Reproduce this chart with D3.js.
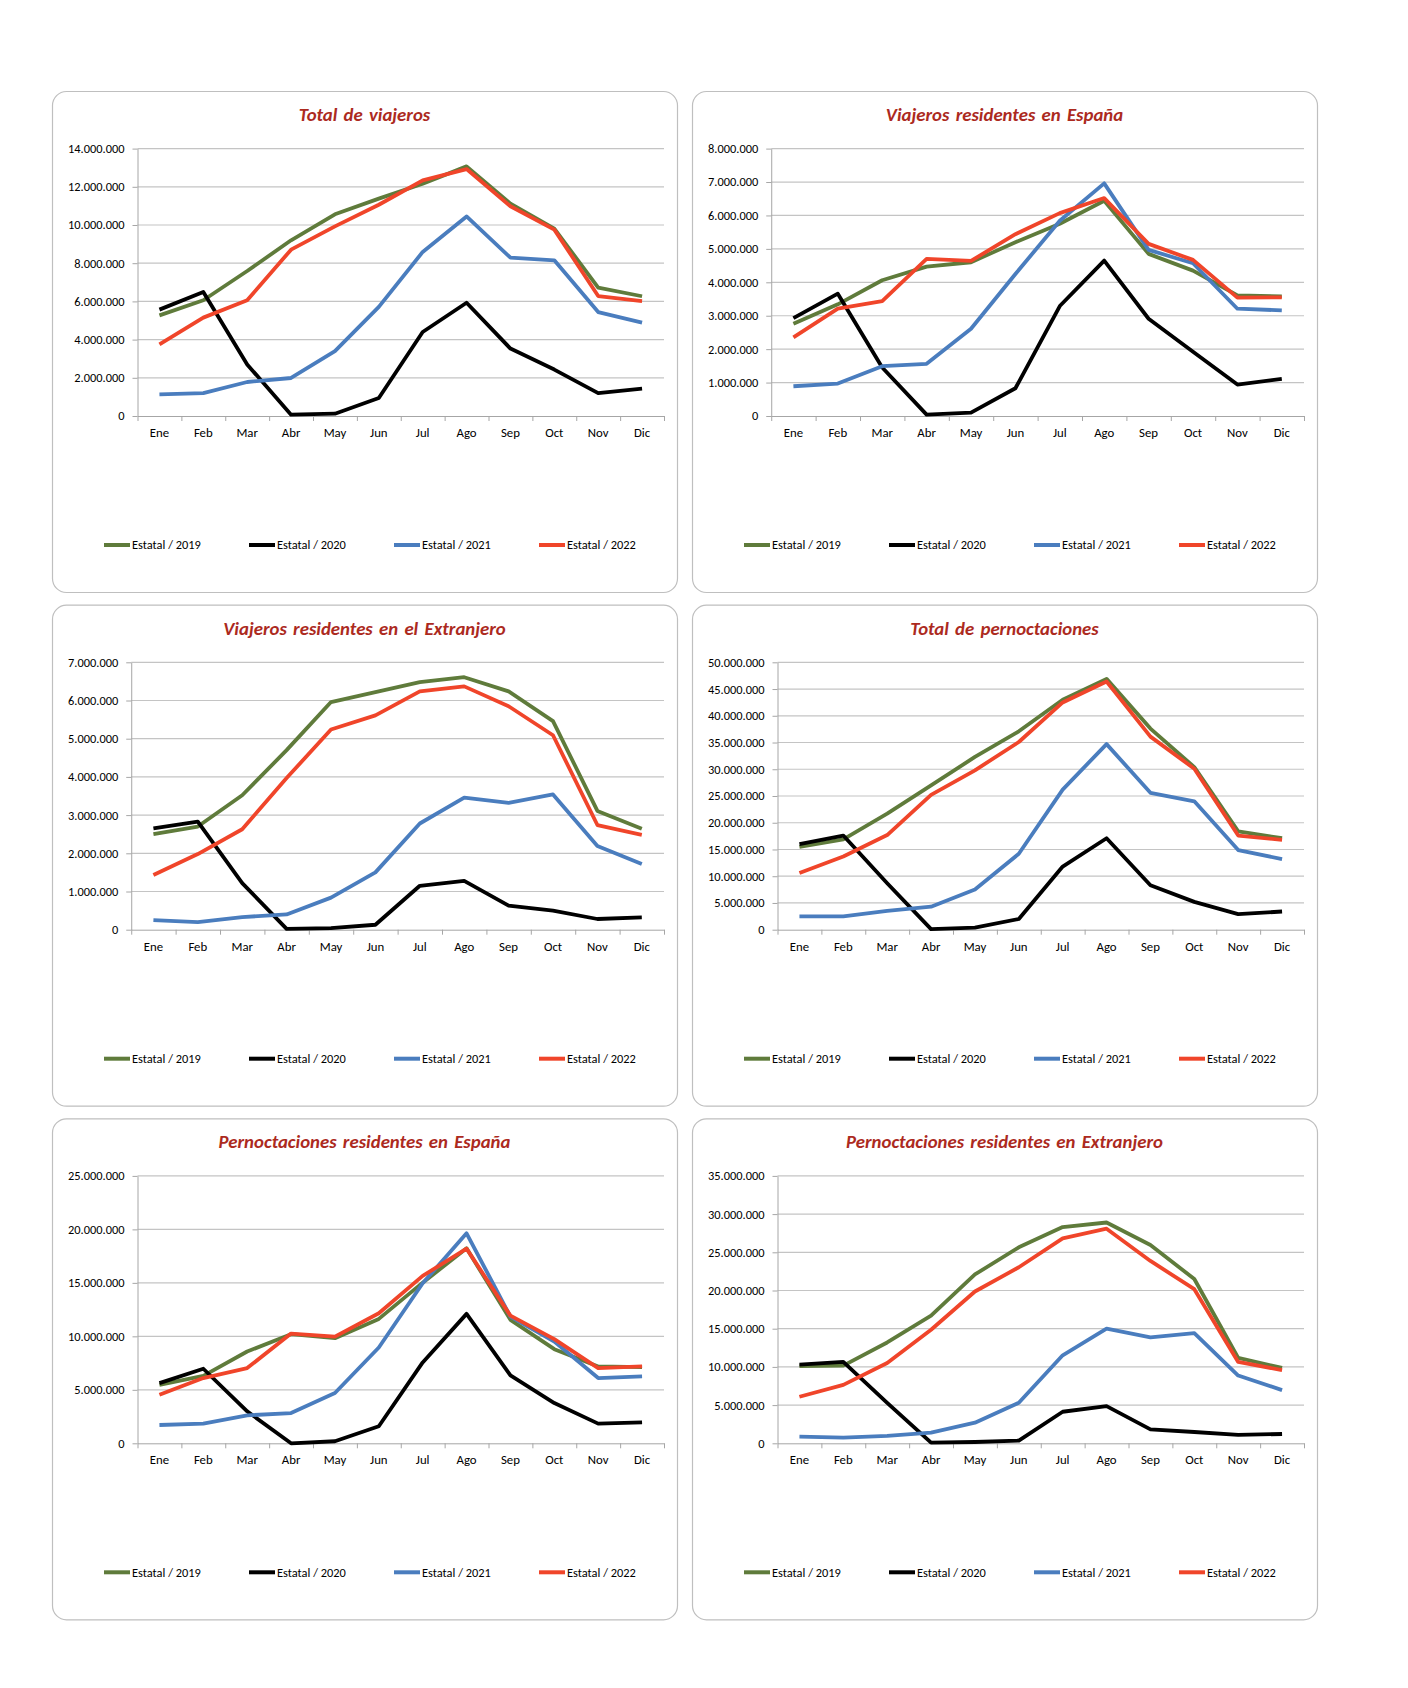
<!DOCTYPE html>
<html>
<head>
<meta charset="utf-8">
<script src="https://cdn.jsdelivr.net/npm/d3@7"></script>
<style>
  body { margin: 0; background: #fff; }
  text { font-family: Carlito, Calibri, Lato, sans-serif; }
</style>
</head>
<body>
<div id="d3-container"></div>
<script>
const months = ['Ene', 'Feb', 'Mar', 'Abr', 'May', 'Jun', 'Jul', 'Ago', 'Sep', 'Oct', 'Nov', 'Dic'];
const seriesNames = ['Estatal / 2019', 'Estatal / 2020', 'Estatal / 2021', 'Estatal / 2022'];
const titles = [
  'Total de viajeros',
  'Viajeros residentes en España',
  'Viajeros residentes en el Extranjero',
  'Total de pernoctaciones',
  'Pernoctaciones residentes en España',
  'Pernoctaciones residentes en Extranjero'
];
// y axis max and step per chart
const yMaxes = [14000000, 8000000, 7000000, 50000000, 25000000, 35000000];
const ySteps = [2000000, 1000000, 1000000, 5000000, 5000000, 5000000];

// rows: 2019, 2020, 2021, 2022
const viajerosTotal = [
  [5270000, 6060000, 7590000, 9200000, 10560000, 11380000, 12160000, 13070000, 11120000, 9810000, 6720000, 6270000],
  [5570000, 6490000, 2700000, 70000, 120000, 940000, 4400000, 5930000, 3530000, 2430000, 1200000, 1430000],
  [1130000, 1200000, 1780000, 1990000, 3400000, 5710000, 8590000, 10450000, 8290000, 8150000, 5440000, 4890000],
  [3750000, 5150000, 6060000, 8710000, 9930000, 11060000, 12340000, 12930000, 10980000, 9760000, 6280000, 6020000]
];
const viajerosEspana = [
  [2760000, 3340000, 4060000, 4470000, 4600000, 5200000, 5750000, 6440000, 4850000, 4350000, 3610000, 3580000],
  [2930000, 3660000, 1450000, 40000, 100000, 830000, 3290000, 4650000, 2910000, 1920000, 940000, 1110000],
  [890000, 970000, 1490000, 1560000, 2610000, 4250000, 5840000, 6960000, 4970000, 4570000, 3210000, 3160000],
  [2350000, 3210000, 3440000, 4700000, 4640000, 5440000, 6070000, 6520000, 5150000, 4670000, 3540000, 3550000]
];
const viajerosExtranjero = [
  [2500000, 2700000, 3520000, 4700000, 5960000, 6220000, 6480000, 6610000, 6240000, 5460000, 3110000, 2640000],
  [2650000, 2830000, 1220000, 20000, 40000, 130000, 1150000, 1280000, 630000, 500000, 280000, 320000],
  [250000, 200000, 330000, 400000, 840000, 1500000, 2780000, 3460000, 3320000, 3540000, 2190000, 1720000],
  [1430000, 1980000, 2630000, 3970000, 5240000, 5610000, 6240000, 6370000, 5850000, 5090000, 2740000, 2480000]
];
const pernoctacionesTotal = [
  [15500000, 16900000, 21700000, 27000000, 32300000, 37100000, 43000000, 46900000, 37600000, 30400000, 18400000, 17100000],
  [16000000, 17600000, 8700000, 100000, 400000, 2000000, 11800000, 17100000, 8300000, 5200000, 2900000, 3400000],
  [2500000, 2500000, 3500000, 4300000, 7500000, 14200000, 26200000, 34700000, 25600000, 24000000, 14900000, 13200000],
  [10600000, 13700000, 17700000, 25200000, 29800000, 35100000, 42500000, 46400000, 36100000, 30100000, 17600000, 16800000]
];
const pernoctacionesEspana = [
  [5470000, 6310000, 8580000, 10200000, 9830000, 11630000, 15020000, 18230000, 11540000, 8800000, 7190000, 7120000],
  [5630000, 6970000, 2990000, 0, 190000, 1590000, 7560000, 12100000, 6350000, 3760000, 1840000, 1960000],
  [1710000, 1840000, 2610000, 2830000, 4700000, 8960000, 14960000, 19630000, 11850000, 9520000, 6100000, 6250000],
  [4540000, 6100000, 7030000, 10260000, 9980000, 12160000, 15650000, 18200000, 11940000, 9740000, 7030000, 7190000]
];
const pernoctacionesExtranjero = [
  [10090000, 10170000, 13200000, 16700000, 22100000, 25650000, 28300000, 28900000, 25960000, 21500000, 11170000, 9870000],
  [10300000, 10650000, 5300000, 90000, 170000, 350000, 4130000, 4870000, 1830000, 1480000, 1090000, 1220000],
  [870000, 740000, 960000, 1390000, 2700000, 5300000, 11520000, 15000000, 13870000, 14430000, 8870000, 6960000],
  [6090000, 7650000, 10520000, 14870000, 19870000, 23040000, 26830000, 28090000, 23870000, 20170000, 10650000, 9570000]
];

const chartData = [viajerosTotal, viajerosEspana, viajerosExtranjero,
                   pernoctacionesTotal, pernoctacionesEspana, pernoctacionesExtranjero];

const colors = ['#5F7B3B', '#000000', '#4A7DBE', '#F0452A'];

const width = 1408;
const height = 1688;
const panelW = 625;
const panelH = 501;
const colX = [52, 692];
const rowY = [91, 604.7, 1118.3];
const plotTop = 57.6;
const plotBottom = 325;

const fmt = d3.formatLocale({ decimal: ',', thousands: '.', grouping: [3], currency: ['', ''] }).format(',d');

const svg = d3.select('#d3-container')
  .append('svg')
  .attr('width', width)
  .attr('height', height);

function drawChart(g, title, series, yMax, yStep) {
  g.append('rect')
    .attr('x', 0.5).attr('y', 0.5)
    .attr('width', panelW).attr('height', panelH)
    .attr('rx', 14).attr('ry', 14)
    .attr('fill', '#fff')
    .attr('stroke', '#BFBFBF')
    .attr('stroke-width', 1.2);

  g.append('text')
    .attr('x', panelW / 2)
    .attr('y', 30)
    .attr('text-anchor', 'middle')
    .attr('font-size', '18.8px')
    .attr('font-weight', 'bold')
    .attr('font-style', 'italic')
    .attr('word-spacing', '2px')
    .attr('fill', '#AC2A1E')
    .text(title);

  const ticks = d3.range(0, yMax + 1, yStep);

  // measure widest y label to place the plot like Excel does
  const probe = g.append('text').attr('font-size', '12.4px').text(fmt(yMax));
  const labelW = probe.node().getComputedTextLength();
  probe.remove();

  const left = 16 + labelW + 13;
  const right = panelW - 13;

  const y = d3.scaleLinear().domain([0, yMax]).range([plotBottom, plotTop]);
  const x = d3.scaleBand().domain(months).range([left, right]);

  // gridlines
  g.append('g')
    .selectAll('line')
    .data(ticks.slice(1))
    .join('line')
      .attr('x1', left).attr('x2', right)
      .attr('y1', d => y(d)).attr('y2', d => y(d))
      .attr('stroke', '#C4C4C4')
      .attr('stroke-width', 1.2);

  const yAxis = g.append('g')
    .attr('transform', `translate(${left},0)`)
    .call(d3.axisLeft(y).tickValues(ticks).tickFormat(fmt).tickSize(5).tickSizeOuter(0).tickPadding(8));
  yAxis.attr('font-size', '12.4px').attr('font-family', null);
  yAxis.select('.domain').attr('stroke', '#A6A6A6');
  yAxis.selectAll('.tick line').attr('stroke', '#A6A6A6');
  yAxis.selectAll('.tick text').attr('fill', '#000');

  // category boundary ticks
  const xb = d3.scaleLinear().domain([0, months.length]).range([left, right]);
  const xTicks = g.append('g')
    .attr('transform', `translate(0,${plotBottom})`)
    .call(d3.axisBottom(xb).ticks(months.length).tickFormat('').tickSize(5).tickSizeOuter(0));
  xTicks.select('.domain').attr('stroke', '#A6A6A6');
  xTicks.selectAll('.tick line').attr('stroke', '#A6A6A6');

  const xAxis = g.append('g')
    .attr('transform', `translate(0,${plotBottom})`)
    .call(d3.axisBottom(x).tickSize(0).tickPadding(12));
  xAxis.attr('font-size', '12.8px').attr('font-family', null);
  xAxis.select('.domain').remove();
  xAxis.selectAll('.tick text').attr('fill', '#000');

  const line = d3.line()
    .x((d, i) => x(months[i]) + x.bandwidth() / 2)
    .y(d => y(d));

  g.append('g')
    .selectAll('path')
    .data(series)
    .join('path')
      .attr('d', line)
      .attr('fill', 'none')
      .attr('stroke', (d, i) => colors[i])
      .attr('stroke-width', 3.8)
      .attr('stroke-linejoin', 'round');

  // legend
  const legend = g.append('g')
    .attr('transform', 'translate(52,454)')
    .selectAll('g')
    .data(seriesNames)
    .join('g')
      .attr('transform', (d, i) => `translate(${i * 145},0)`);
  legend.append('line')
    .attr('x1', 0).attr('x2', 26)
    .attr('stroke', (d, i) => colors[i])
    .attr('stroke-width', 4);
  legend.append('text')
    .attr('x', 28)
    .attr('dy', '0.35em')
    .attr('font-size', '12.4px')
    .attr('fill', '#000')
    .text(d => d);
}

chartData.forEach((series, i) => {
  const g = svg.append('g')
    .attr('transform', `translate(${colX[i % 2]},${rowY[Math.floor(i / 2)]})`);
  drawChart(g, titles[i], series, yMaxes[i], ySteps[i]);
});
</script>
</body>
</html>
